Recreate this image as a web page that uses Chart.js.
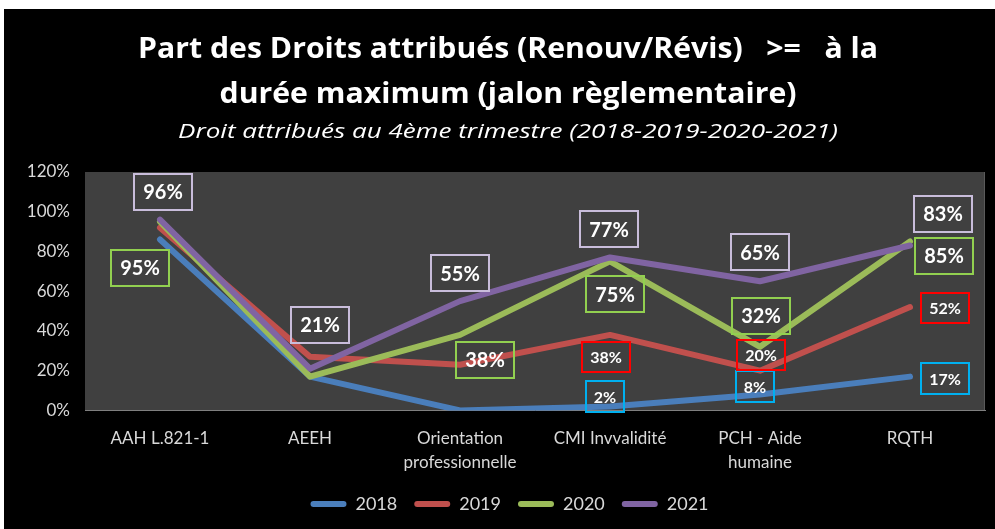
<!DOCTYPE html>
<html>
<head>
<meta charset="utf-8">
<script src="https://cdn.jsdelivr.net/npm/chart.js@4.4.0/dist/chart.umd.min.js"></script>
<style>
html,body{margin:0;padding:0;background:#fff;}
#wrap{position:absolute;left:4px;top:9px;width:991px;height:520px;background:#000;}
</style>
</head>
<body>
<div id="wrap"><canvas id="monitorChart"></canvas></div>
<script>
// ==========================================
// DATA
// ==========================================

const categories = ["AAH L.821-1", "AEEH", ["Orientation", "professionnelle"], "CMI Invvalidité", ["PCH - Aide", "humaine"], "RQTH"];

const years = ["2018", "2019", "2020", "2021"];

const v2018 = [86, 17, 0, 2, 8, 17];
const v2019 = [92, 27, 23, 38, 20, 52];
const v2020 = [95, 17, 38, 75, 32, 85];
const v2021 = [96, 21, 55, 77, 65, 83];

const yMax = 120;
const yStep = 20;

const titleLines = ["Part des Droits attribués (Renouv/Révis)   >=   à la", "durée maximum (jalon règlementaire)"];
const subTitle = "Droit attribués au 4ème trimestre (2018-2019-2020-2021)";

// ==========================================
// STYLE
// ==========================================

const colors = ["#4a7ebb", "#c0504d", "#9bbb59", "#8064a2"];

// label box: border, font size, height, offset from point (null = no label)
const labelStyle = [
    {border: "#00b0f0", size: 16, h: 31, pad: 8,
     off: [null, null, null, [-5, -10], [-5, -8], [35, 2]]},
    {border: "#ff0000", size: 16, h: 30, pad: 8,
     off: [null, null, null, [-4, 22], [1, -16], [35, 1]]},
    {border: "#92d050", size: 20, h: 36, pad: 9,
     off: [[-20, 46], null, [25, 25], [5, 33], [1, -31], [34, 14]]},
    {border: "#c9bddb", size: 20, h: 36, pad: 9,
     off: [[3, -28], [10, -44], [0, -28], [-1, -28], [0, -29], [33, -32]]}
];

// ==========================================
// PLUGINS
// ==========================================

const plotBg = {
    id: "plotBg",
    beforeDraw(chart) {
        const a = chart.chartArea;
        const ctx = chart.ctx;
        ctx.save();
        ctx.fillStyle = "#404040";
        ctx.fillRect(a.left, a.top, a.right - a.left, a.bottom - a.top);
        ctx.strokeStyle = "#5a5a5a";
        ctx.lineWidth = 1;
        ctx.beginPath();
        ctx.moveTo(a.right - 0.5, a.top);
        ctx.lineTo(a.right - 0.5, a.bottom);
        ctx.stroke();
        ctx.restore();
    }
};

// title drawn by hand so it can be stretched a little like the original
const titleDraw = {
    id: "titleDraw",
    afterDraw(chart) {
        const ctx = chart.ctx;
        const cx = 504;
        ctx.save();
        ctx.fillStyle = "#ffffff";
        ctx.textAlign = "center";
        ctx.textBaseline = "alphabetic";

        ctx.font = "bold 29px 'Open Sans'";
        const sx = 740 / ctx.measureText(titleLines[0]).width;
        [49, 94].forEach(function (y, i) {
            ctx.save();
            ctx.translate(cx, y);
            ctx.scale(sx, 1);
            ctx.fillText(titleLines[i], 0, 0);
            ctx.restore();
        });

        ctx.font = "italic 20px 'Open Sans'";
        const sx2 = 660 / ctx.measureText(subTitle).width;
        ctx.translate(cx, 129);
        ctx.scale(sx2, 1);
        ctx.fillText(subTitle, 0, 0);
        ctx.restore();
    }
};

// legend sits a bit right of centre; longer swatch, text right after it
const legendSwatch = {
    id: "legendSwatch",
    afterUpdate(chart) {
        const lg = chart.legend;
        if (!lg) return;
        lg.left += 15;
        lg.right += 15;
        lg.adjustHitBoxes();
    },
    afterDraw(chart) {
        const lg = chart.legend;
        if (!lg || !lg.legendHitBoxes) return;
        const ctx = chart.ctx;
        ctx.save();
        lg.legendHitBoxes.forEach(function (hb, i) {
            ctx.fillStyle = colors[i];
            ctx.beginPath();
            ctx.roundRect(hb.left, hb.top + hb.height / 2 - 3, 44, 6, 3);
            ctx.fill();
        });
        ctx.restore();
    }
};

const boxLabels = {
    id: "boxLabels",
    afterDatasetsDraw(chart) {
        const ctx = chart.ctx;
        chart.data.datasets.forEach(function (ds, i) {
            const meta = chart.getDatasetMeta(i);
            const st = labelStyle[i];
            ds.data.forEach(function (v, j) {
                const off = st.off[j];
                if (!off) return;
                const pt = meta.data[j];
                const cx = pt.x + off[0];
                const cy = pt.y + off[1];
                const txt = v + "%";
                ctx.save();
                ctx.font = "bold " + st.size + "px Lato";
                const w = ctx.measureText(txt).width + st.pad * 2;
                ctx.strokeStyle = st.border;
                ctx.lineWidth = 2;
                ctx.strokeRect(Math.round(cx - w / 2), Math.round(cy - st.h / 2), Math.round(w), st.h);
                ctx.fillStyle = "#ffffff";
                ctx.textAlign = "center";
                ctx.textBaseline = "middle";
                ctx.fillText(txt, cx, cy + 1);
                ctx.restore();
            });
        });
    }
};

// ==========================================
// CHART
// ==========================================

const series = [v2018, v2019, v2020, v2021];

const ctx = document.getElementById("monitorChart").getContext("2d");

const chart = new Chart(ctx, {

    type: "line",

    data: {
        labels: categories,
        datasets: years.map(function (y, i) {
            return {
                label: y,
                data: series[i],
                borderColor: colors[i],
                backgroundColor: colors[i],
                borderWidth: 6,
                pointRadius: 0,
                tension: 0,
                borderJoinStyle: "round",
                borderCapStyle: "round",
                order: 4 - i
            };
        })
    },

    options: {
        responsive: true,
        maintainAspectRatio: false,
        animation: false,
        layout: {
            padding: {left: 0, right: 10, top: 163, bottom: 6}
        },
        scales: {
            x: {
                offset: true,
                grid: {display: false, drawTicks: false},
                border: {display: true, color: "#7f7f7f", width: 1},
                afterFit: function (s) { s.height -= 12; },
                ticks: {
                    color: "#d9d9d9",
                    padding: 16,
                    maxRotation: 0,
                    autoSkip: false,
                    font: {family: "Lato", size: 17, lineHeight: 1.4}
                }
            },
            y: {
                min: 0,
                max: yMax,
                grid: {display: false, drawTicks: false},
                border: {display: false},
                afterFit: function (s) { s.width = 81; },
                ticks: {
                    stepSize: yStep,
                    color: "#d9d9d9",
                    padding: 15,
                    font: {family: "Lato", size: 17},
                    callback: function (v) { return v + "%"; }
                }
            }
        },
        plugins: {
            tooltip: {enabled: false},
            title: {display: false},
            subtitle: {display: false},
            legend: {
                display: true,
                position: "bottom",
                labels: {
                    color: "#d9d9d9",
                    font: {family: "Lato", size: 18},
                    boxWidth: 36,
                    boxHeight: 6,
                    padding: 17,
                    useBorderRadius: true,
                    borderRadius: 3,
                    generateLabels: function (c) {
                        return c.data.datasets.map(function (ds, i) {
                            return {
                                text: ds.label,
                                fillStyle: ds.borderColor,
                                strokeStyle: ds.borderColor,
                                lineWidth: 0,
                                fontColor: "#d9d9d9",
                                borderRadius: 3,
                                hidden: false,
                                datasetIndex: i
                            };
                        });
                    }
                }
            }
        }
    },

    plugins: [plotBg, boxLabels, titleDraw, legendSwatch]

});
</script>
</body>
</html>
